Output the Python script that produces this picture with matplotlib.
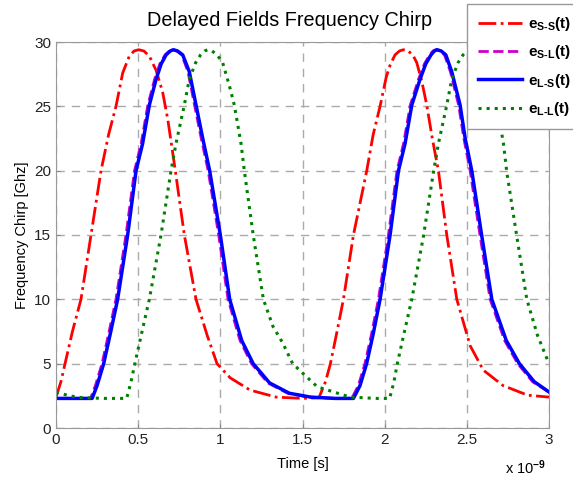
import matplotlib
matplotlib.use('Agg')
import matplotlib.pyplot as plt

plt.rcParams['font.family'] = ['Liberation Sans', 'DejaVu Sans']
plt.rcParams['mathtext.fontset'] = 'custom'
plt.rcParams['mathtext.rm'] = 'Liberation Sans:bold'
plt.rcParams['mathtext.it'] = 'Liberation Sans:bold'
plt.rcParams['mathtext.default'] = 'rm'

# time in ns, chirp in GHz
t_ss = [0.0, 0.03, 0.055, 0.1, 0.152, 0.213, 0.274, 0.32, 0.365, 0.406, 0.446, 0.475, 0.503,
        0.535, 0.568, 0.609, 0.649, 0.68, 0.71, 0.726, 0.781, 0.852, 0.92, 0.98, 1.06, 1.18,
        1.34, 1.5, 1.6, 1.64, 1.67, 1.71, 1.749, 1.81, 1.891, 1.93, 1.972, 2.01, 2.033, 2.063,
        2.09, 2.114, 2.145, 2.175, 2.195, 2.225, 2.256, 2.29, 2.327, 2.378, 2.439, 2.52, 2.6,
        2.72, 2.87, 3.0]
e_ss = [2.4, 3.6, 5.0, 7.5, 10, 15, 20, 22.8, 25, 27.6, 28.9, 29.3, 29.4,
        29.3, 28.9, 27.8, 26.1, 24, 21.4, 20, 15, 10, 7.2, 5, 3.9, 2.95,
        2.4, 2.3, 2.35, 3.6, 5.0, 7.5, 10, 15, 20, 22.8, 25, 27.3, 28.2, 29.0,
        29.3, 29.4, 29.3, 28.9, 28.4, 27.0, 25.1, 22.5, 20, 15, 10, 6.4, 4.5,
        3.3, 2.55, 2.4]

t_sl = [0.0, 0.1, 0.21, 0.24, 0.28, 0.32, 0.365, 0.426, 0.478, 0.518, 0.559, 0.6, 0.632,
        0.664, 0.69, 0.712, 0.736, 0.765, 0.803, 0.843, 0.884, 0.926, 0.99, 1.047, 1.12,
        1.19, 1.29, 1.41, 1.54, 1.7, 1.80, 1.84, 1.88, 1.92, 1.962, 2.023, 2.075, 2.115,
        2.156, 2.206, 2.242, 2.274, 2.294, 2.311, 2.336, 2.364, 2.4, 2.45, 2.482, 2.52,
        2.58, 2.642, 2.73, 2.81, 2.9, 3.0]
e_sl = [2.3, 2.3, 2.3, 3.3, 5.0, 7.3, 10, 15, 20, 22.1, 25.1, 27.1, 28.3,
        29.0, 29.3, 29.4, 29.3, 29.0, 27.7, 25.1, 22.5, 20, 15, 10, 6.8,
        5, 3.5, 2.7, 2.4, 2.3, 2.3, 3.3, 5.0, 7.3, 10, 15, 20, 22.1,
        25.1, 27.1, 28.3, 29.0, 29.3, 29.4, 29.3, 29.0, 27.7, 25.1, 22.5, 20,
        15, 10, 6.8, 5, 3.6, 2.8]

t_ls = [0.0, 0.1, 0.22, 0.25, 0.29, 0.33, 0.375, 0.436, 0.487, 0.527, 0.568, 0.609, 0.64,
        0.67, 0.695, 0.714, 0.74, 0.771, 0.811, 0.852, 0.893, 0.935, 1.0, 1.057, 1.13,
        1.2, 1.3, 1.42, 1.55, 1.7, 1.81, 1.85, 1.89, 1.93, 1.972, 2.033, 2.084, 2.124,
        2.165, 2.215, 2.25, 2.282, 2.302, 2.319, 2.344, 2.372, 2.408, 2.459, 2.49, 2.53,
        2.59, 2.652, 2.74, 2.82, 2.91, 3.0]
e_ls = [2.3, 2.3, 2.3, 3.3, 5.0, 7.3, 10, 15, 20, 22.1, 25.1, 27.1, 28.3,
        29.0, 29.3, 29.4, 29.3, 29.0, 27.7, 25.1, 22.5, 20, 15, 10, 6.8,
        5, 3.5, 2.7, 2.4, 2.3, 2.3, 3.3, 5.0, 7.3, 10, 15, 20, 22.1,
        25.1, 27.1, 28.3, 29.0, 29.3, 29.4, 29.3, 29.0, 27.7, 25.1, 22.5, 20,
        15, 10, 6.8, 5, 3.6, 2.8]

t_ll = [0.0, 0.08, 0.165, 0.3, 0.43, 0.455, 0.48, 0.52, 0.568, 0.639, 0.70, 0.73, 0.781,
        0.811, 0.85, 0.88, 0.905, 0.923, 0.95, 0.98, 1.014, 1.055, 1.085, 1.126, 1.146,
        1.2, 1.262, 1.32, 1.38, 1.44, 1.59, 1.79, 1.95, 2.03, 2.055, 2.077, 2.117, 2.165,
        2.236, 2.297, 2.327, 2.378, 2.408, 2.447, 2.477, 2.50, 2.52, 2.547, 2.577, 2.611,
        2.652, 2.682, 2.723, 2.743, 2.804, 2.865, 2.93, 3.0]
e_ll = [2.8, 2.5, 2.35, 2.3, 2.3, 3.5, 5.0, 7.3, 10, 15, 20, 22.1, 25.1,
        27.1, 28.4, 29.0, 29.3, 29.4, 29.3, 29.0, 28.4, 26.6, 25.1, 22.1, 20,
        15, 10, 7.9, 6.6, 5, 3.2, 2.4, 2.3, 2.3, 3.5, 5.0, 7.3, 10,
        14.9, 19.9, 22.1, 25.1, 27.1, 28.4, 29.0, 29.3, 29.4, 29.3, 29.0, 28.4,
        26.6, 25.1, 22.1, 19.9, 14.9, 10, 7.2, 5.0]

labels = [r'e$_{\mathrm{S\text{-}S}}$(t)', r'e$_{\mathrm{S\text{-}L}}$(t)',
          r'e$_{\mathrm{L\text{-}S}}$(t)', r'e$_{\mathrm{L\text{-}L}}$(t)']
xticks = [0, 0.5, 1, 1.5, 2, 2.5, 3]
xticklabels = ['0', '0.5', '1', '1.5', '2', '2.5', '3']
yticks = [0, 5, 10, 15, 20, 25, 30]

fig = plt.figure(figsize=(5.73, 4.79), dpi=100)
ax = fig.add_axes([56 / 573, 1 - 428 / 479, 493 / 573, 386 / 479])

l1, = ax.plot(t_ss, e_ss, color='red', linestyle='-.', linewidth=2)
l2, = ax.plot(t_sl, e_sl, color='#cc00cc', linestyle='--', linewidth=2)
l3, = ax.plot(t_ls, e_ls, color='blue', linestyle='-', linewidth=2.5)
l4, = ax.plot(t_ll, e_ll, color='green', linestyle=':', linewidth=2.2)

ax.set_xlim(0, 3)
ax.set_ylim(0, 30)
ax.set_xticks(xticks)
ax.set_xticklabels(xticklabels)
ax.set_yticks(yticks)
ax.tick_params(direction='in', length=3, labelsize=11, color='#888888', labelcolor='#222222')
ax.grid(True, color='#aaaaaa', linestyle=(0, (6, 5)), linewidth=1)
for s in ax.spines.values():
    s.set_color('#999999')

ax.set_xlabel('Time [s]', fontsize=10.5, labelpad=7)
ax.set_ylabel('Frequency Chirp [Ghz]', fontsize=10.5)
fig.text(290 / 573, 1 - 20 / 479, 'Delayed Fields Frequency Chirp', fontsize=14.3,
         ha='center', va='center')
fig.text(505 / 573, 1 - 468 / 479, r'x 10$^{-9}$', fontsize=10.5, ha='left', va='center')

leg = fig.legend([l1, l2, l3, l4], labels, loc='upper left',
                 bbox_to_anchor=(467 / 573, 1 - 4 / 479), borderaxespad=0,
                 fancybox=False, framealpha=1, edgecolor='#999999',
                 prop={'weight': 'bold', 'size': 11}, handlelength=2.9,
                 handletextpad=0.4, labelspacing=0.68, borderpad=0.72)
leg.get_frame().set_linewidth(1)

fig.savefig('out.png', dpi=100)
